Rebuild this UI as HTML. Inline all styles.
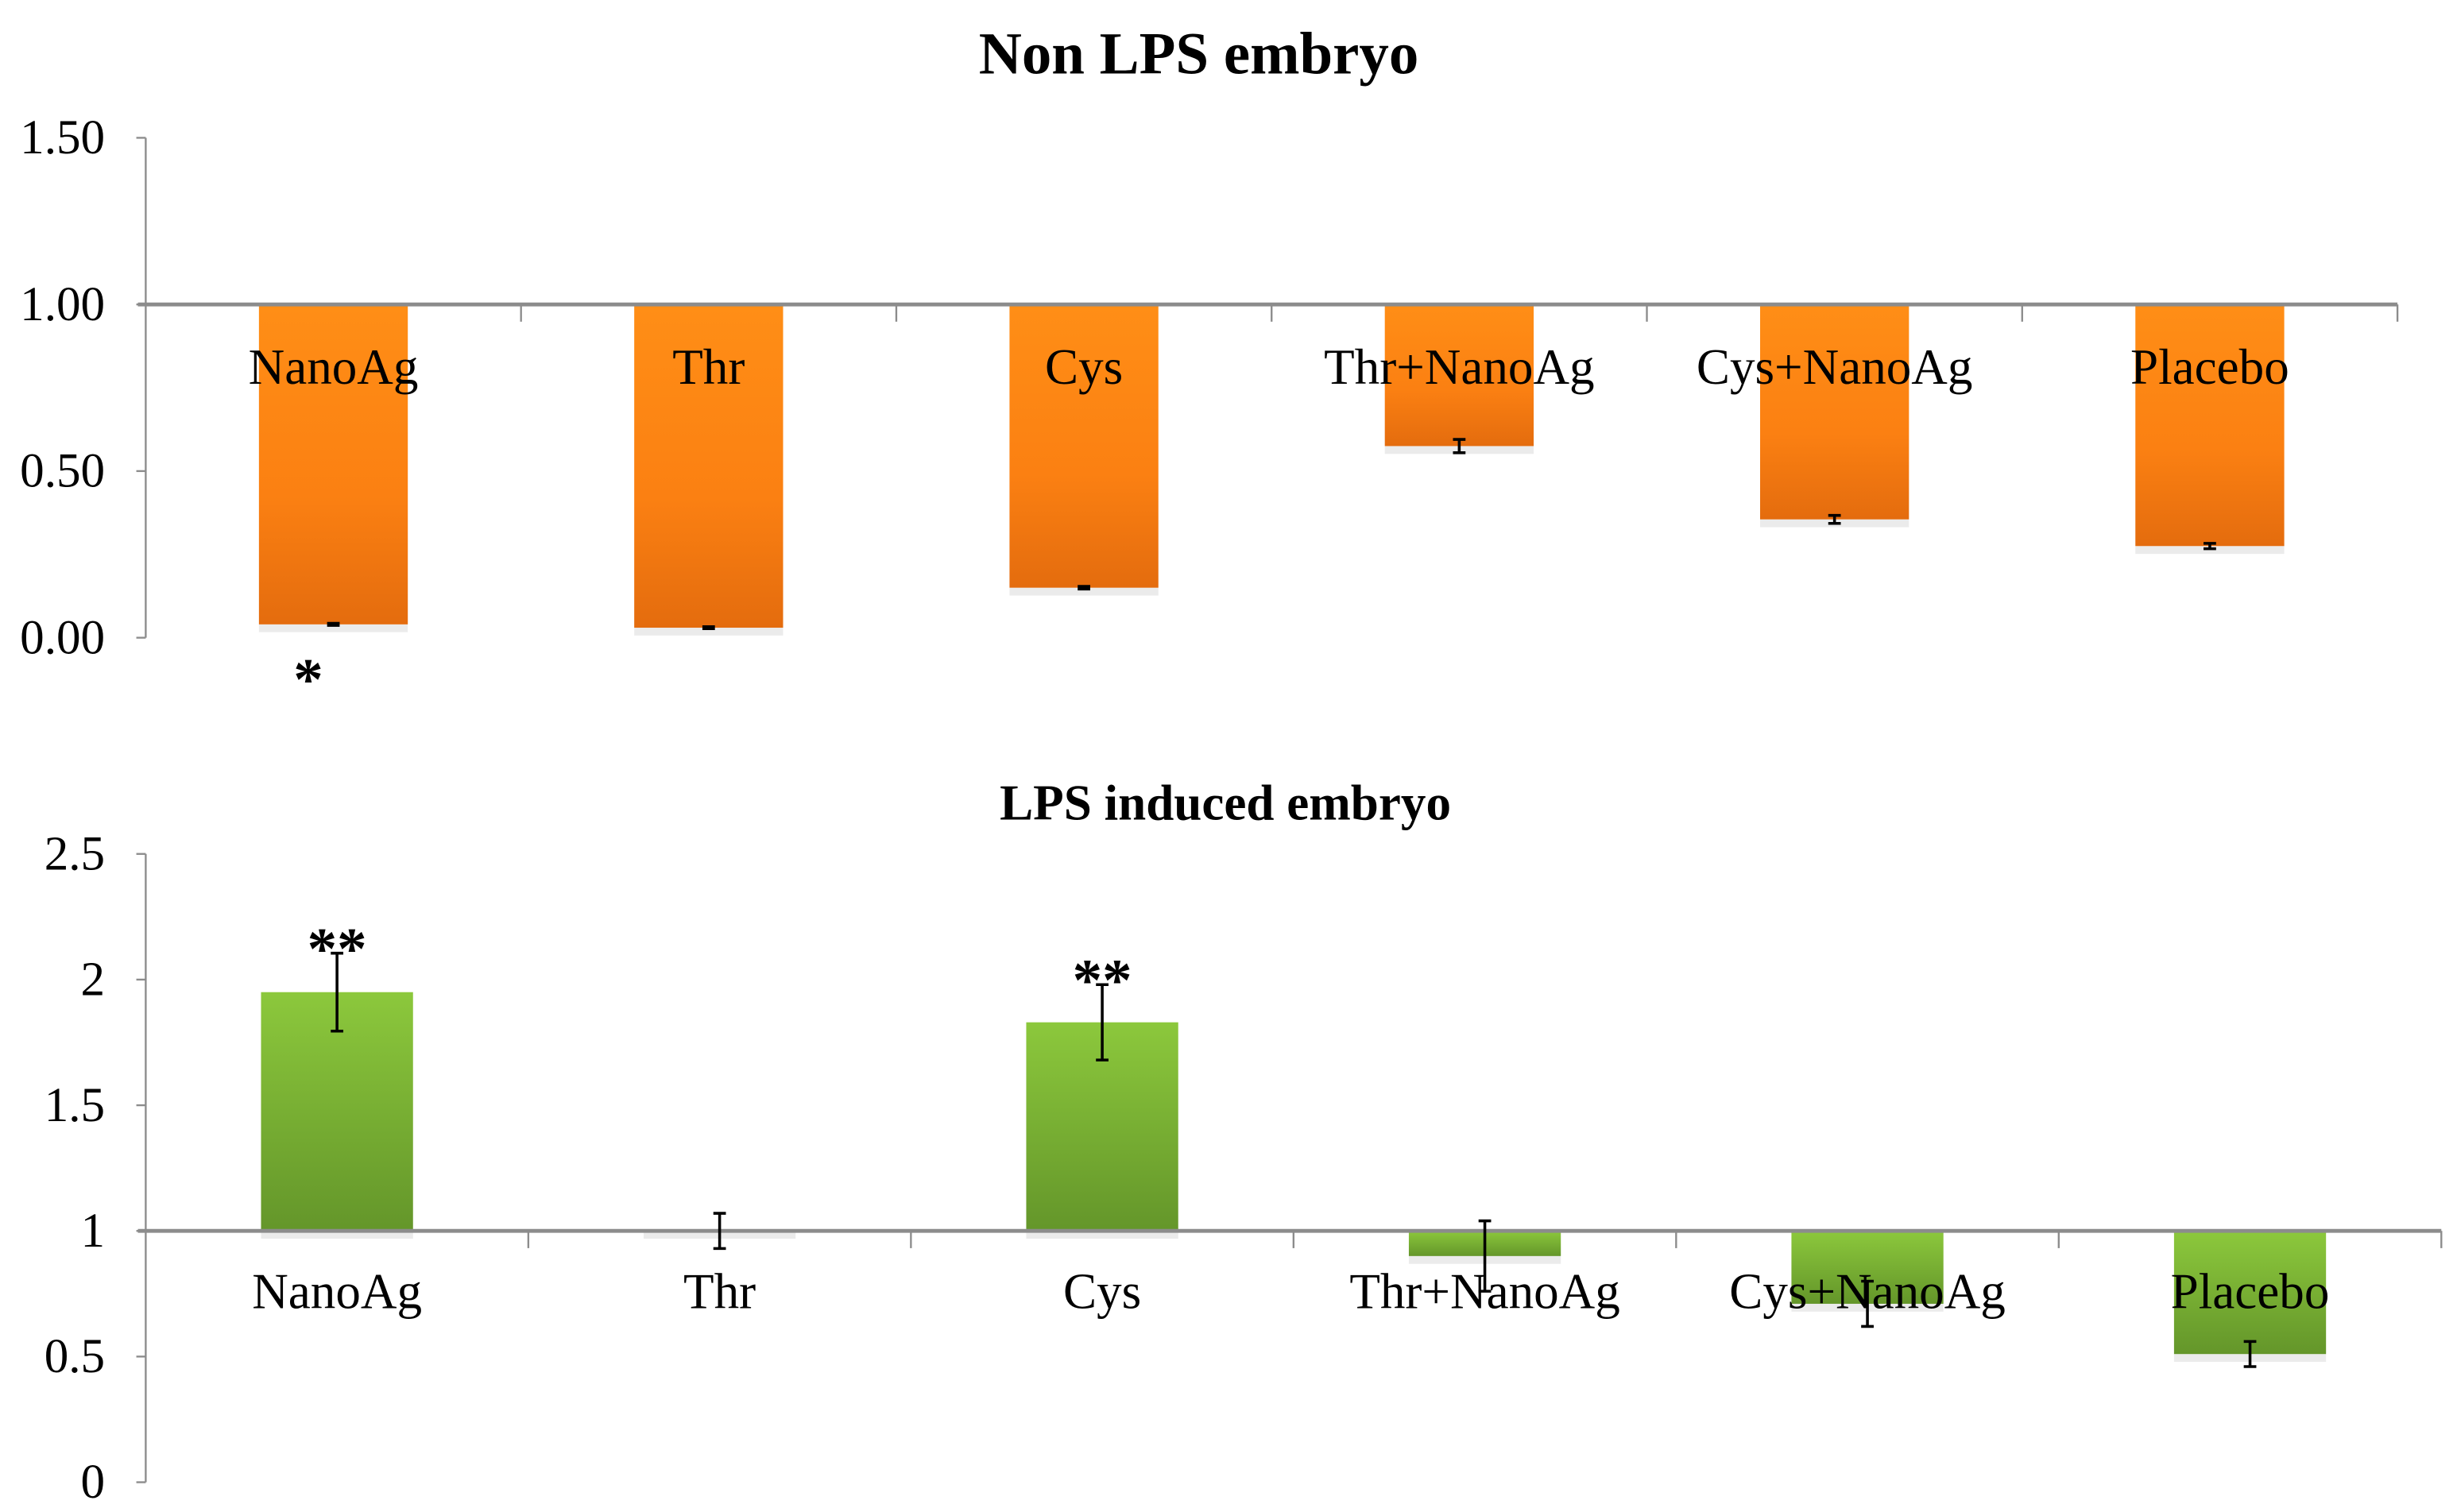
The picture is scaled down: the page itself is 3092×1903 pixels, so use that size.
<!DOCTYPE html>
<html><head><meta charset="utf-8"><style>
html,body{margin:0;padding:0;background:#fff;}
svg{display:block;font-family:"Liberation Serif",serif;}
</style></head><body>
<svg id="c" width="3092" height="1903" viewBox="0 0 1568 965" preserveAspectRatio="none" xmlns="http://www.w3.org/2000/svg">
<defs>
<linearGradient id="go" x1="0" y1="0" x2="0" y2="1"><stop offset="0" stop-color="#ff8e16"/><stop offset="0.6" stop-color="#fb8012"/><stop offset="1" stop-color="#e46c0e"/></linearGradient>
<linearGradient id="gg" x1="0" y1="0" x2="0" y2="1"><stop offset="0" stop-color="#8cc83c"/><stop offset="1" stop-color="#64962a"/></linearGradient>
</defs>
<text x="765" y="47" text-anchor="middle" font-size="38" font-weight="bold">Non LPS embryo</text>
<text x="782" y="523" text-anchor="middle" font-size="32" font-weight="bold">LPS induced embryo</text>
</svg>
<script>
const categories = ["NanoAg","Thr","Cys","Thr+NanoAg","Cys+NanoAg","Placebo"];
const nonLpsValues = [0.04,0.03,0.15,0.575,0.355,0.275];
const nonLpsErrors = [0.003,0.003,0.004,0.02,0.012,0.008];
const nonLpsTicks = ["0.00","0.50","1.00","1.50"];
const lpsValues = [1.95,1.0,1.83,0.90,0.71,0.51];
const lpsErrors = [0.155,0.07,0.15,0.14,0.09,0.05];
const lpsTicks = ["0","0.5","1","1.5","2","2.5"];
const nonLpsMarks = ["*","","","","",""];
const lpsMarks = ["**","","**","","",""];

const svg = document.getElementById('c');
const NS = "http://www.w3.org/2000/svg";
function mk(tag, attrs){const e=document.createElementNS(NS,tag);for(const k in attrs)e.setAttribute(k,attrs[k]);svg.appendChild(e);return e;}

function drawChart(cfg){
  const y = v => cfg.y0 - (v - cfg.vmin) * cfg.ppu;
  const bw = (cfg.xEnd - cfg.x0) / categories.length;
  const xc = i => cfg.x0 + bw * (i + 0.5);
  const ax = mk('line',{x1:cfg.x0,y1:y(cfg.vmax),x2:cfg.x0,y2:y(cfg.vmin),stroke:'#8c8c8c','stroke-width':1.2});
  
  
  cfg.ticks.forEach(t=>{
    const v=parseFloat(t);
    const tk=mk('line',{x1:cfg.x0-6,y1:y(v),x2:cfg.x0,y2:y(v),stroke:'#8c8c8c','stroke-width':1.2});
    
    
    const tl=mk('text',{x:67,y:y(v)+10,'text-anchor':'end','font-size':31});
    tl.textContent=t;
    
    
  });
  categories.forEach((c,i)=>{
    const v=cfg.values[i], yb=y(cfg.base), yv=y(v);
    const top=Math.min(yb,yv), h=Math.abs(yv-yb);
    const sh=mk('rect',{x:xc(i)-cfg.bwid/2,y:top+h,width:cfg.bwid,height:5,fill:'#000',opacity:0.08});
    
    
    const r=mk('rect',{x:xc(i)-cfg.bwid/2,y:top,width:cfg.bwid,height:Math.max(h,0.01),fill:cfg.fill});
    
    
  });
  const bl=mk('line',{x1:cfg.x0-5,y1:y(cfg.base),x2:cfg.xEnd,y2:y(cfg.base),stroke:'#8c8c8c','stroke-width':2.5});
  
  
  for(let i=1;i<=categories.length;i++){
    const t=mk('line',{x1:cfg.x0+bw*i,y1:y(cfg.base),x2:cfg.x0+bw*i,y2:y(cfg.base)+11,stroke:'#8c8c8c','stroke-width':1.2});
    
    
  }
  categories.forEach((c,i)=>{
    const t=mk('text',{x:xc(i),y:cfg.labelY,'text-anchor':'middle','font-size':32});
    t.textContent=c;
    
    
  });
  categories.forEach((c,i)=>{
    const v=cfg.values[i], e=cfg.errors[i], x=xc(i);
    const g=mk('path',{d:`M${x},${y(v+e)}V${y(v-e)}M${x-4},${y(v+e)}H${x+4}M${x-4},${y(v-e)}H${x+4}`,stroke:'#000','stroke-width':1.8,fill:'none'});
    
    
    if(cfg.marks[i]){
      const my = cfg.marksBelow ? y(v)+48 : y(v+e)+10;
      const m=mk('text',{x:x-(cfg.marksBelow?16:0),y:my,'text-anchor':'middle','font-size':38,'font-weight':'bold'});
      m.textContent=cfg.marks[i];
      
      
    }
  });
}
drawChart({p:'non-lps',x0:93,xEnd:1530,y0:407,vmin:0,vmax:1.5,ppu:212.7,base:1,bwid:95,fill:'url(#go)',
  values:nonLpsValues,errors:nonLpsErrors,ticks:nonLpsTicks,labelY:245,marks:nonLpsMarks,marksBelow:true});
drawChart({p:'lps',x0:93,xEnd:1558,y0:946,vmin:0,vmax:2.5,ppu:160.4,base:1,bwid:97,fill:'url(#gg)',
  values:lpsValues,errors:lpsErrors,ticks:lpsTicks,labelY:835,marks:lpsMarks,marksBelow:false});
</script>
</body></html>
